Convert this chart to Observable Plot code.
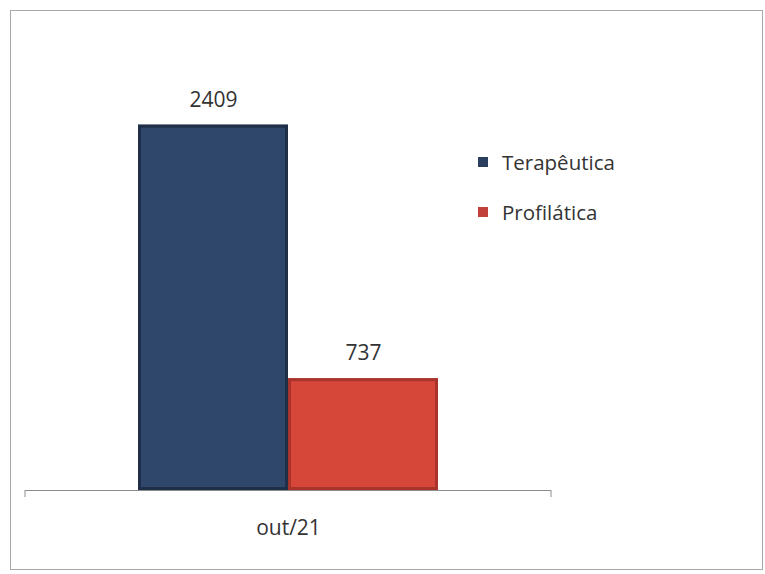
<!DOCTYPE html>
<html><head><meta charset="utf-8">
<script src="https://cdn.jsdelivr.net/npm/d3@7"></script>
<script src="https://cdn.jsdelivr.net/npm/@observablehq/plot@0.6"></script>
<style>
body{margin:0;background:#fff;}
#wrap{position:relative;width:765px;height:574px;font-family:"Open Sans",sans-serif;overflow:hidden;}
#border{position:absolute;left:10px;top:10px;width:753px;height:560px;border:1px solid #a8a8a8;box-sizing:border-box;pointer-events:none;}
#chart{position:absolute;left:0;top:0;}
#legend{position:absolute;left:478px;top:148px;font-size:20.5px;color:#333;}
#legend .item{display:flex;align-items:center;height:28px;margin-bottom:22px;white-space:nowrap;}
#legend .sw{width:10px;height:10px;margin-right:14px;}
</style>
</head><body>
<div id="wrap"><div id="chart"></div><div id="legend"></div><div id="border"></div></div>
<script>
const periods = ["out/21"];
const series = ["Terapêutica", "Profilática"];
const values = [2409, 737];
const colors = ["#2e476b", "#d6473a"];
const edgeColors = ["#1e2f47", "#a8342b"];
const swatchColors = ["#2a3f5e", "#c2403a"];

const data = series.map((s, i) => ({period: periods[0], series: s, value: values[i]}));

const plot = Plot.plot({
  width: 765, height: 574,
  marginLeft: 25, marginRight: 214, marginTop: 35, marginBottom: 84,
  style: {fontFamily: "Open Sans, sans-serif", fontSize: "21px", color: "#333", background: "transparent"},
  fx: {domain: periods, padding: 0, label: null},
  x: {domain: series, axis: null, paddingInner: 0, paddingOuter: 0.753},
  y: {domain: [0, 3000], axis: null},
  color: {domain: series, range: colors},
  marks: [
    Plot.barY(data, {fx: "period", x: "series", y: "value", fill: "series"}),
    Plot.barY(data, {fx: "period", x: "series", y: "value", fill: "none",
      stroke: d => edgeColors[series.indexOf(d.series)], strokeWidth: 3, inset: 1.5}),
    Plot.text(data, {fx: "period", x: "series", y: "value", text: d => String(d.value), dy: -25, fill: "#333", fontSize: 21}),
    Plot.ruleY([0], {stroke: "#8c8c8c", strokeWidth: 1}),
    Plot.axisFx({anchor: "bottom", tickSize: 0, tickPadding: 30, fontSize: 21, fill: "#333", label: null})
  ]
});
document.getElementById("chart").appendChild(plot);

// end tick marks at category boundaries
const fxs = plot.scale("fx");
const ys = plot.scale("y");
const y0 = ys.apply(0);
const svg = d3.select(plot);
fxs.range.forEach(xp => {
  svg.append("line").attr("x1", xp).attr("x2", xp).attr("y1", y0).attr("y2", y0 + 7)
    .attr("stroke", "#8c8c8c").attr("stroke-width", 1);
});

const legend = d3.select("#legend");
series.forEach((s, i) => {
  const it = legend.append("div").attr("class", "item");
  it.append("div").attr("class", "sw").style("background", swatchColors[i]);
  it.append("span").text(s);
});
</script>
</body></html>
